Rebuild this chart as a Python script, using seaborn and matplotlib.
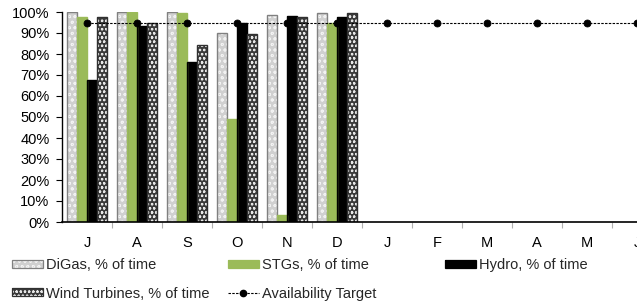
import numpy as np
import pandas as pd
import matplotlib
matplotlib.use("Agg")
import matplotlib.pyplot as plt
from matplotlib.patches import Patch, Rectangle
from matplotlib.lines import Line2D
from matplotlib.legend_handler import HandlerTuple
from matplotlib.ticker import PercentFormatter, FixedLocator
import seaborn as sns

# ---------------------------------------------------------------- data
months = ["Jul", "Aug", "Sep", "Oct", "Nov", "Dec",
          "Jan", "Feb", "Mar", "Apr", "May", "Jun"]
month_labels = ["J", "A", "S", "O", "N", "D", "J", "F", "M", "A", "M", "J"]

nan = np.nan
digas = [1.000, 1.000, 1.000, 0.900, 0.986, 0.997, nan, nan, nan, nan, nan, nan]
stgs = [0.978, 0.999, 0.996, 0.489, 0.033, 0.946, nan, nan, nan, nan, nan, nan]
hydro = [0.676, 0.933, 0.763, 0.946, 0.981, 0.975, nan, nan, nan, nan, nan, nan]
wind = [0.975, 0.950, 0.843, 0.895, 0.978, 0.994, nan, nan, nan, nan, nan, nan]
target = [0.95] * 12

series_names = ["DiGas, % of time", "STGs, % of time",
                "Hydro, % of time", "Wind Turbines, % of time"]
series_values = [digas, stgs, hydro, wind]

long_df = pd.DataFrame({
    "month": np.tile(months, len(series_names)),
    "series": np.repeat(series_names, len(months)),
    "value": np.concatenate(series_values),
})

# ---------------------------------------------------------------- styles
# (face, hatch, hatch colour, outline)
styles = [
    ("#d0d0d0", "ooo", "#f2f2f2", "#808080"),
    ("#9bbb59", None, "#9bbb59", "#9bbb59"),
    ("#000000", None, "#000000", "#000000"),
    ("#3a3a3a", "oooo", "#e6e6e6", "#303030"),
]

sns.set_theme(style="white")
plt.rcParams["font.family"] = ["Liberation Sans", "DejaVu Sans"]
plt.rcParams["hatch.linewidth"] = 0.6
FS = 10.5

fig = plt.figure(figsize=(6.37, 3.01), dpi=100)
ax = fig.add_axes([62 / 637, 1 - 222 / 301, 600 / 637, 210 / 301])

sns.barplot(data=long_df, x="month", y="value", hue="series",
            order=months, hue_order=series_names, width=0.8, gap=0,
            ax=ax, legend=False)

for cont, (face, hatch, hcol, edge) in zip(ax.containers, styles):
    for p in cont.patches:
        if not np.isfinite(p.get_height()):
            continue
        p.set_facecolor(face)
        p.set_hatch(hatch)
        p.set_edgecolor(hcol)
        p.set_linewidth(0)
        ax.add_patch(Rectangle((p.get_x(), p.get_y()), p.get_width(), p.get_height(),
                               fill=False, edgecolor=edge, linewidth=1.0, zorder=p.get_zorder() + 0.1))

sns.pointplot(x=months, y=target, order=months, color="black", marker="o",
              markersize=5, linestyle=(0, (2.2, 1.2)), linewidth=0.8, ax=ax)

ax.set_xlim(-0.5, 11.5)
ax.set_ylim(0, 1.0)
ax.yaxis.set_major_locator(FixedLocator(np.arange(0, 1.01, 0.1)))
ax.yaxis.set_major_formatter(PercentFormatter(1.0, decimals=0))
ax.set_xticks(range(12))
ax.set_xticklabels(month_labels)
ax.xaxis.set_minor_locator(FixedLocator(np.arange(0.5, 11.6, 1)))
ax.set_xlabel("")
ax.set_ylabel("")

ax.tick_params(axis="x", which="major", length=0, pad=10, labelsize=FS, labelcolor="black")
ax.tick_params(axis="x", which="minor", length=4, width=0.8, color="#b0b0b0", direction="out", bottom=True)
ax.tick_params(axis="y", which="major", length=4, width=0.8, color="black", direction="out",
               left=True, pad=5, labelsize=FS, labelcolor="black")

for s in ["top", "right"]:
    ax.spines[s].set_visible(False)
ax.spines["left"].set_color("black")
ax.spines["left"].set_linewidth(1.0)
ax.spines["bottom"].set_color("black")
ax.spines["bottom"].set_linewidth(1.2)
ax.grid(False)

# ---------------------------------------------------------------- legend
def bar_handle(i):
    face, hatch, hcol, edge = styles[i]
    fill = Patch(facecolor=face, hatch=hatch, edgecolor=hcol, linewidth=0)
    outline = Patch(facecolor="none", edgecolor=edge, linewidth=0.9)
    return (fill, outline)

target_handle = Line2D([], [], color="black", linestyle=(0, (2.2, 1.2)), linewidth=0.8,
                       marker="o", markersize=4.5)

columns = [
    ([bar_handle(0), bar_handle(3)], [series_names[0], series_names[3]], 12),
    ([bar_handle(1), target_handle], [series_names[1], "Availability Target"], 228),
    ([bar_handle(2)], [series_names[2]], 445),
]
for handles, labels, xpix in columns:
    fig.legend(handles, labels, loc="upper left",
               bbox_to_anchor=(xpix / 637, 1 - 258 / 301),
               frameon=False, fontsize=FS, handlelength=2.1, handleheight=0.45,
               handletextpad=0.25, labelspacing=1.0, borderpad=0, borderaxespad=0,
               handler_map={tuple: HandlerTuple(ndivide=1, pad=0)})

fig.savefig("out.png", dpi=100)
